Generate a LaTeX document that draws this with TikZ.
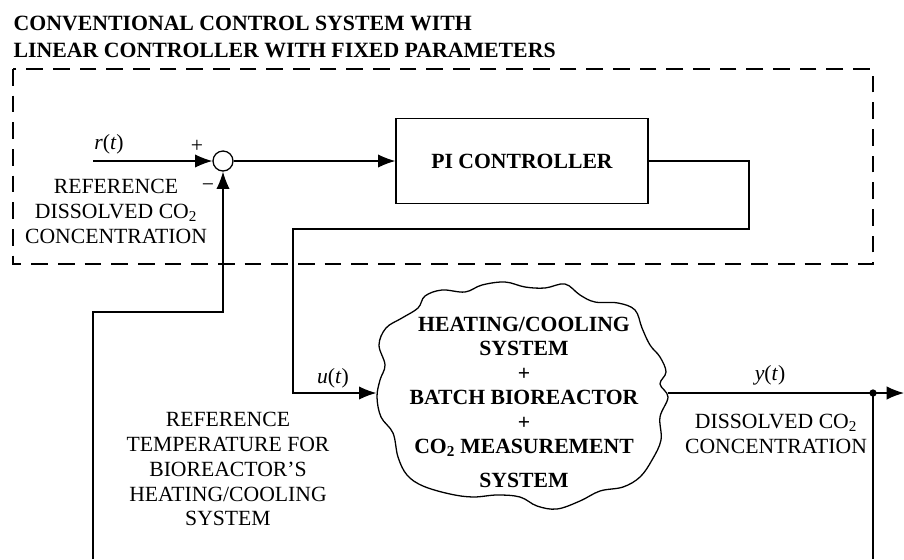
\documentclass[tikz,border=0pt]{standalone}
\usepackage{fontspec}
\setmainfont{Liberation Serif}
\usetikzlibrary{arrows.meta}
\begin{document}
\begin{tikzpicture}[x=0.3mm, y=-0.3mm, line width=1.1pt, >={Latex[length=5.2mm,width=4mm]},
    lbl/.style={font=\fontsize{18.5}{21.3}\selectfont, inner sep=0pt, align=center},
    bold/.style={lbl, font=\fontsize{18.5}{20.9}\selectfont\bfseries},
    block/.style={draw, minimum width=75.6mm, minimum height=25.5mm, inner sep=0pt, font=\fontsize{18.5}{21.3}\selectfont\bfseries},
    sumpt/.style={draw, circle, minimum size=6mm, inner sep=0pt},
    groupbox/.style={line width=0.85mm, dash pattern=on 5mm off 3mm}]
  \useasboundingbox[fill=white] (0,0) rectangle (904,559);
  % title and controller group
  \node[bold, anchor=north west, align=left, font=\fontsize{18.6}{23}\selectfont\bfseries] (title) at (13,15)
    {CONVENTIONAL CONTROL SYSTEM WITH\\LINEAR CONTROLLER WITH FIXED PARAMETERS};
  \draw[groupbox] (13,69) rectangle (873,264);
  \node[sumpt] (sum) at (223,161) {};
  \node[block] (pi) at (522,161) {PI CONTROLLER};
  % plant (wavy outline drawn below)
  \node[minimum width=87mm, minimum height=66mm] (plant) at (522,393) {};
  \node[bold] (plantText) at (524,402)
    {HEATING/COOLING\\SYSTEM\\+\\BATCH BIOREACTOR\\+\\CO\textsubscript{2} MEASUREMENT\\[2.7mm]SYSTEM};
  \draw plot[smooth cycle, tension=0.6] coordinates {(377,397) (380,380) (385,365) (379,345) (386,328) (402,318)
    (418,308) (425,296) (442,290) (465,292) (482,285) (505,282) (525,287) (545,288) (565,284) (580,295)
    (595,302) (618,303) (635,310) (642,328) (650,345) (660,357) (666,372) (660,384) (668,397) (660,417)
    (661,440) (652,460) (640,477) (623,487) (600,491) (580,501) (557,509) (537,506) (520,497) (497,495)
    (473,497) (450,494) (423,486) (407,475) (398,457) (393,433) (381,417)};
  \coordinate (rin) at (93,161);
  \coordinate (ctlA) at (749,229);
  \coordinate (ctlB) at (293,393);
  \coordinate (tap) at (873,393);
  \coordinate (yout) at (904,393);
  \coordinate (fbR) at (873,559);
  \coordinate (fbL) at (93,559);
  \coordinate (fbK) at (223,312);
  % signals
  \draw[->] (rin) -- (sum);
  \draw[->] (sum) -- (pi);
  \draw[->] (pi.east) -| (ctlA) -| (ctlB) -- (plant.west);
  \draw[->] (plant.east) -- (yout);
  \fill (tap) circle (1.1mm);
  \draw (tap) -- (fbR);
  \draw[->] (fbL) |- (fbK) -- (sum.south);
  % labels
  \node[lbl, anchor=base] (rlbl) at (109,149) {\textit{r}(\textit{t})};
  \node[lbl, anchor=base] (plus) at (197,152) {+};
  \node[lbl] (minus) at (208,188) {−};
  \node[lbl] (refCO) at (116,211) {REFERENCE\\DISSOLVED CO\textsubscript{2}\\CONCENTRATION};
  \node[lbl, anchor=base] (ulbl) at (333,383) {\textit{u}(\textit{t})};
  \node[lbl, anchor=base] (ylbl) at (770,380) {\textit{y}(\textit{t})};
  \node[lbl] (yCO) at (776,434) {DISSOLVED CO\textsubscript{2}\\CONCENTRATION};
  \node[lbl] (refT) at (228,469) {REFERENCE\\TEMPERATURE FOR\\BIOREACTOR’S\\HEATING/COOLING\\SYSTEM};
\end{tikzpicture}
\end{document}
